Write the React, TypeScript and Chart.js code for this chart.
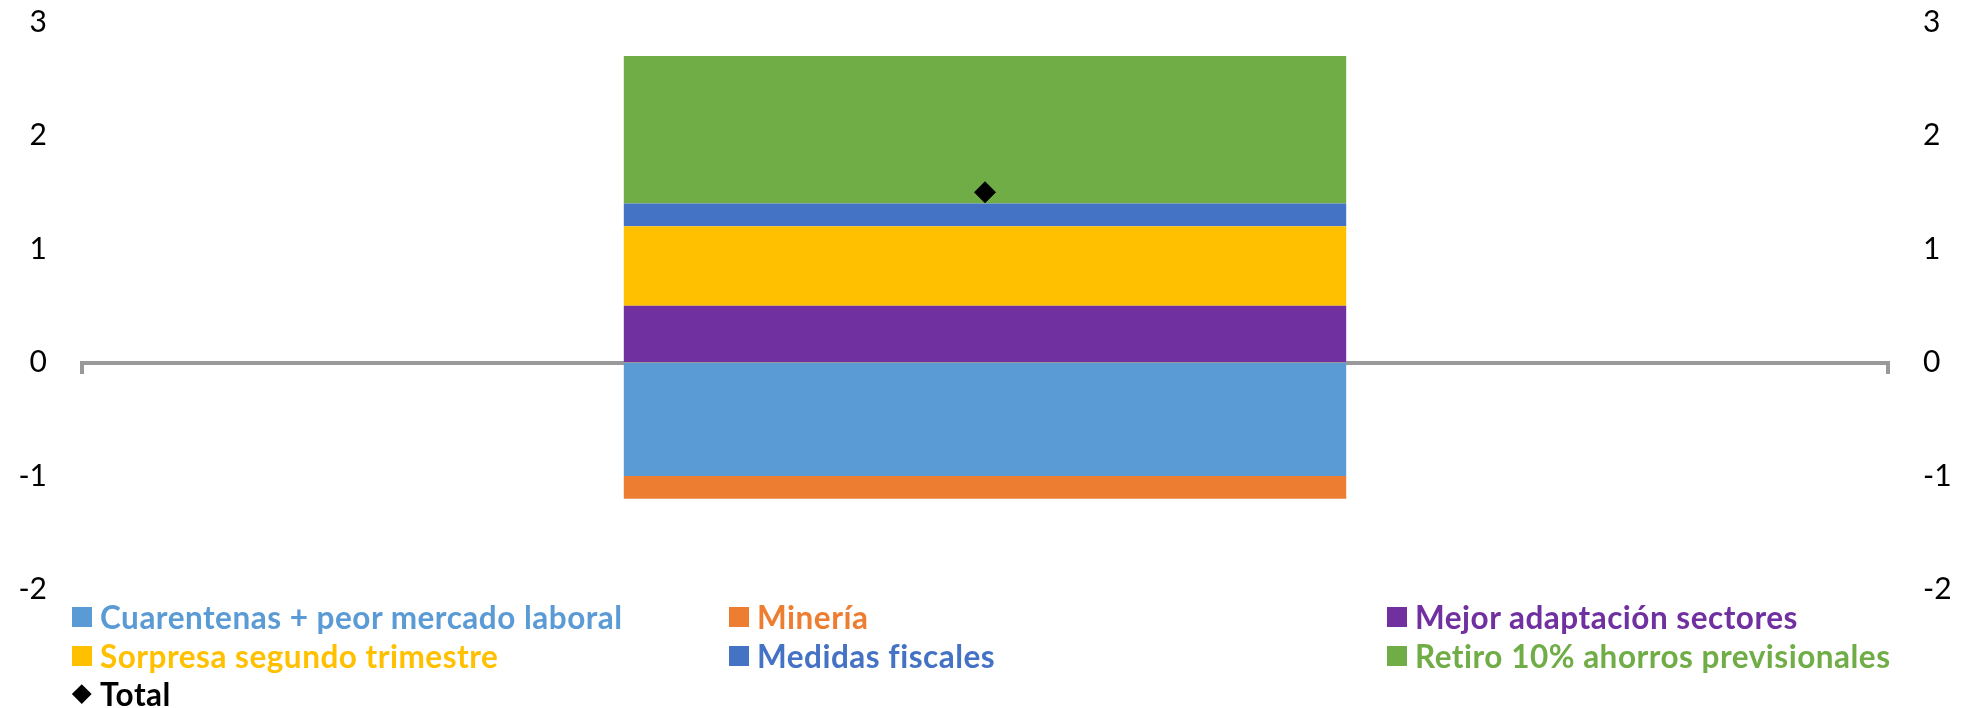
import React, { useEffect, useRef } from 'react';
import { Chart, registerables } from 'chart.js';

Chart.register(...registerables);

const categories = ['2020'];
const seriesNames = [
  'Cuarentenas + peor mercado laboral',
  'Minería',
  'Mejor adaptación sectores',
  'Sorpresa segundo trimestre',
  'Medidas fiscales',
  'Retiro 10% ahorros previsionales',
];
const seriesColors = ['#5B9BD5', '#ED7D31', '#7030A0', '#FFC000', '#4472C4', '#70AD47'];
const cuarentenas = [-1.0];
const mineria = [-0.2];
const mejorAdaptacion = [0.5];
const sorpresa = [0.7];
const medidasFiscales = [0.2];
const retiro = [1.3];
const totalName = 'Total';
const total = [1.5];
const yMin = -2;
const yMax = 3;
const yStep = 1;

const seriesValues = [cuarentenas, mineria, mejorAdaptacion, sorpresa, medidasFiscales, retiro];

const W = 1966;
const H = 708;
const FONT = 'Lato, "Open Sans", sans-serif';

export default function App() {
  const canvasRef = useRef<HTMLCanvasElement | null>(null);

  useEffect(() => {
    document.body.style.margin = '0';
    const canvas = canvasRef.current;
    if (!canvas) return;
    Chart.defaults.font.family = FONT;

    const tickFont = { family: FONT, size: 30 };
    const hiddenTickGrid = {
      display: true,
      drawOnChartArea: false,
      drawTicks: true,
      tickLength: 35,
      color: 'rgba(0,0,0,0)',
    };

    const chart = new Chart(canvas, {
      type: 'bar',
      data: {
        labels: categories,
        datasets: [
          ...seriesNames.map((name, i) => ({
            type: 'bar' as const,
            label: name,
            data: seriesValues[i],
            backgroundColor: seriesColors[i],
            borderWidth: 0,
            barPercentage: 0.4,
            categoryPercentage: 1,
            order: 1,
          })),
          {
            type: 'line' as const,
            label: totalName,
            data: total,
            showLine: false,
            pointStyle: 'rectRot',
            pointRadius: 10.5,
            pointBackgroundColor: '#000000',
            pointBorderColor: '#000000',
            pointBorderWidth: 1,
            backgroundColor: '#000000',
            borderColor: '#000000',
            stack: 'total',
            order: 0,
          } as any,
        ],
      },
      options: {
        animation: false,
        responsive: false,
        maintainAspectRatio: false,
        devicePixelRatio: 1,
        layout: { padding: { top: 22, bottom: 118.5, left: 0, right: 0 } },
        plugins: {
          legend: { display: false },
          tooltip: { enabled: false },
        },
        scales: {
          x: {
            type: 'category',
            stacked: true,
            offset: true,
            position: { y: 0 } as any,
            z: 1,
            grid: {
              display: true,
              drawOnChartArea: false,
              drawTicks: true,
              tickLength: 9,
              color: '#999999',
              lineWidth: 4,
              offset: true,
            },
            border: { display: true, color: '#999999', width: 4 },
            ticks: { display: false },
          },
          y: {
            position: 'left',
            stacked: true,
            min: yMin,
            max: yMax,
            ticks: { stepSize: yStep, padding: 0, color: '#000000', font: tickFont },
            grid: hiddenTickGrid,
            border: { display: false },
            afterFit: (s: any) => {
              s.width = 82;
            },
          },
          y2: {
            position: 'right',
            min: yMin,
            max: yMax,
            ticks: { stepSize: yStep, padding: 0, color: '#000000', font: tickFont },
            grid: hiddenTickGrid,
            border: { display: false },
            afterFit: (s: any) => {
              s.width = 78;
            },
          },
        } as any,
      },
    });

    return () => {
      chart.destroy();
    };
  }, []);

  const colX = [72, 729, 1387];
  const rowY = [617, 656, 694];
  const legendItems = [
    ...seriesNames.map((name, i) => ({ name, color: seriesColors[i], diamond: false })),
    { name: totalName, color: '#000000', diamond: true },
  ];

  return (
    <div style={{ position: 'relative', width: W, height: H, background: '#ffffff', overflow: 'hidden' }}>
      <canvas ref={canvasRef} width={W} height={H} style={{ display: 'block', width: W, height: H }} />
      {legendItems.map((item, i) => {
        const col = i % 3;
        const row = Math.floor(i / 3);
        return (
          <div
            key={item.name}
            style={{
              position: 'absolute',
              left: colX[col],
              top: rowY[row] - 20,
              height: 40,
              display: 'flex',
              alignItems: 'center',
              whiteSpace: 'nowrap',
              fontFamily: FONT,
              fontWeight: 700,
              fontSize: 31.5,
              letterSpacing: 0.5,
              color: item.color,
            }}
          >
            {item.diamond ? (
              <div style={{ width: 20, height: 20, display: 'flex', alignItems: 'center', justifyContent: 'center', marginRight: 8 }}>
                <div style={{ width: 13.5, height: 13.5, background: '#000', transform: 'rotate(45deg)' }} />
              </div>
            ) : (
              <div style={{ width: 20, height: 20, background: item.color, marginRight: 8 }} />
            )}
            <span>{item.name}</span>
          </div>
        );
      })}
    </div>
  );
}
